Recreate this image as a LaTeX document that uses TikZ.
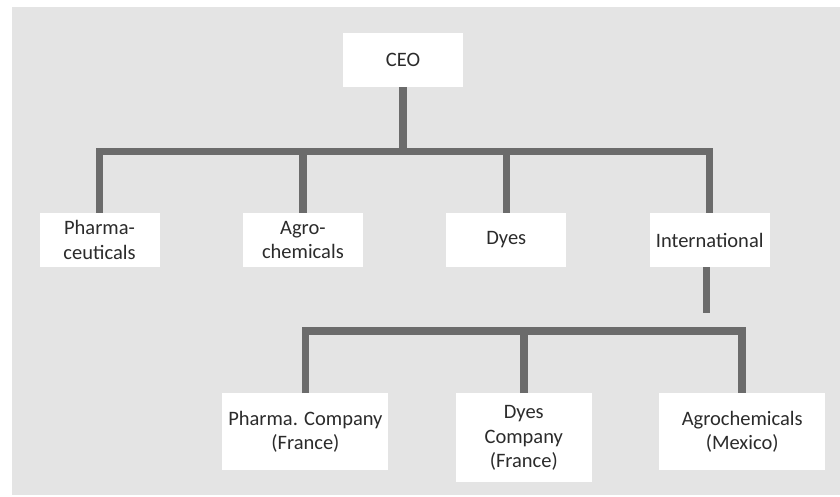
\documentclass[tikz,border=0pt]{standalone}
\usepackage{fontspec}
\setmainfont{Carlito}
\usetikzlibrary{positioning}
\definecolor{panelgray}{HTML}{E4E4E4}
\definecolor{linkgray}{HTML}{6B6B6B}
\definecolor{textgray}{HTML}{2B2B2B}

\begin{document}
\begin{tikzpicture}[
    unit/.style = {fill=white, text=textgray, align=center, inner sep=2pt,
                   minimum width=120pt, minimum height=54pt,
                   font=\fontsize{20.5}{24.5}\selectfont},
    wideunit/.style = {unit, minimum width=166pt, minimum height=77pt},
    link/.style = {draw=linkgray, line width=7.5pt, line join=miter}
  ]
  \useasboundingbox (0pt,0pt) rectangle (840pt,-497pt);
  \fill[panelgray] (12pt,-7pt) rectangle (840pt,-495pt);

  \node[unit] (ceo) at (403pt,-60pt) {CEO};
  \node[unit] (pharma) at (99.5pt,-240pt) {Pharma-\\ceuticals};
  \node[unit, right=83pt of pharma] (agro) {Agro-\\chemicals};
  \node[unit, right=83pt of agro] (dyes) {Dyes};
  \node[unit, right=83pt of dyes] (intl) {International};

  \node[wideunit, below=126pt of agro, xshift=2.5pt] (pco) {Pharma. Company\\(France)};
  \node[unit, minimum width=136pt, minimum height=89pt,
        right=67pt of pco.north east, anchor=north west] (dco) {Dyes\\Company\\(France)};
  \node[wideunit, right=67pt of dco.north east, anchor=north west] (aco) {Agrochemicals\\(Mexico)};

  \coordinate[below=64.5pt of ceo.south] (topbar);
  \coordinate[below=64pt of intl.south] (lowbar);
  \coordinate[below=46pt of intl.south, xshift=-3pt] (stub);

  \draw[link] (ceo.south) -- (ceo.south |- topbar);
  \draw[link] (pharma.north) -- (pharma.north |- topbar)
    -- (intl.north |- topbar) -- (intl.north);
  \draw[link] (agro.north) -- (agro.north |- topbar);
  \draw[link] (dyes.north) -- (dyes.north |- topbar);

  \draw[link] (intl.south -| stub) -- (stub);

  \draw[link] (pco.north) -- (pco.north |- lowbar)
    -- (aco.north |- lowbar) -- (aco.north);
  \draw[link] (dco.north) -- (dco.north |- lowbar);
\end{tikzpicture}
\end{document}
